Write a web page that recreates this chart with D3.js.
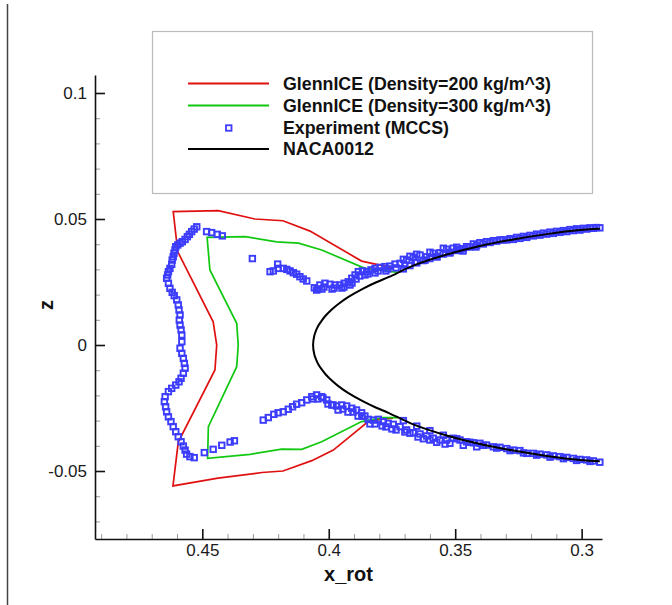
<!DOCTYPE html>
<html>
<head>
<meta charset="utf-8">
<script src="https://cdn.jsdelivr.net/npm/d3@7"></script>
<style>
  body { margin: 0; background: #fff; }
  svg { display: block; font-family: "Liberation Sans", Arial, sans-serif; }
</style>
</head>
<body>
<script>
// chart values
var xMajor = [0.45, 0.4, 0.35, 0.3]
var xMinor = [0.49, 0.48, 0.47, 0.46, 0.44, 0.43, 0.42, 0.41, 0.39, 0.38, 0.37, 0.36, 0.34, 0.33, 0.32, 0.31]
var xLabels = ["0.45", "0.4", "0.35", "0.3"]
var zMajor = [-0.05, 0, 0.05, 0.1]
var zMinor = [-0.07, -0.06, -0.04, -0.03, -0.02, -0.01, 0.01, 0.02, 0.03, 0.04, 0.06, 0.07, 0.08, 0.09]
var zLabels = ["-0.05", "0", "0.05", "0.1"]

var seriesNames = ["GlennICE (Density=200 kg/m^3)", "GlennICE (Density=300 kg/m^3)", "Experiment (MCCS)", "NACA0012"]

// ice shape, density 200
var glenn200 = [
    [0.3746, 0.0306], [0.3797, 0.0317], [0.3870, 0.0333], [0.4074, 0.0452], [0.4181, 0.0493],
    [0.4292, 0.0500], [0.4437, 0.0533], [0.4615, 0.0529], [0.4597, 0.0370], [0.4457, 0.0092],
    [0.4443, 0.0000], [0.4450, -0.0099], [0.4595, -0.0385], [0.4616, -0.0559], [0.4438, -0.0528],
    [0.4264, -0.0506], [0.4181, -0.0500], [0.4067, -0.0459], [0.3982, -0.0417], [0.3844, -0.0304],
    [0.3797, -0.0295], [0.3746, -0.0290]
]

// ice shape, density 300
var glenn300 = [
    [0.3726, 0.0288], [0.3857, 0.0304], [0.4028, 0.0377], [0.4120, 0.0404], [0.4206, 0.0409],
    [0.4331, 0.0430], [0.4481, 0.0427], [0.4470, 0.0298], [0.4364, 0.0086], [0.4358, 0.0000],
    [0.4364, -0.0086], [0.4476, -0.0324], [0.4479, -0.0450], [0.4311, -0.0434], [0.4186, -0.0413],
    [0.4107, -0.0414], [0.4028, -0.0384], [0.3870, -0.0304], [0.3786, -0.0288], [0.3726, -0.0288]
]

// measured ice (MCCS)
var experiment = [
    // outer horn, top to bottom
    [0.4522, 0.0469], [0.4532, 0.0460], [0.4542, 0.0450], [0.4551, 0.0439], [0.4559, 0.0430],
    [0.4568, 0.0419], [0.4579, 0.0410], [0.4588, 0.0404], [0.4597, 0.0397], [0.4605, 0.0390],
    [0.4608, 0.0377], [0.4612, 0.0364], [0.4615, 0.0350], [0.4619, 0.0337], [0.4621, 0.0320],
    [0.4628, 0.0304], [0.4634, 0.0291], [0.4637, 0.0278], [0.4641, 0.0265], [0.4634, 0.0245],
    [0.4628, 0.0225], [0.4619, 0.0209], [0.4611, 0.0196], [0.4601, 0.0179], [0.4595, 0.0159],
    [0.4592, 0.0139], [0.4588, 0.0119], [0.4591, 0.0099], [0.4588, 0.0079], [0.4584, 0.0060],
    [0.4581, 0.0040], [0.4581, 0.0013], [0.4588, -0.0013], [0.4581, -0.0033], [0.4575, -0.0053],
    [0.4571, -0.0073], [0.4568, -0.0092], [0.4575, -0.0112], [0.4584, -0.0132], [0.4592, -0.0146],
    [0.4605, -0.0159], [0.4621, -0.0172], [0.4634, -0.0185], [0.4647, -0.0205], [0.4650, -0.0225],
    [0.4645, -0.0245], [0.4641, -0.0265], [0.4634, -0.0285], [0.4624, -0.0304], [0.4615, -0.0324],
    [0.4605, -0.0344], [0.4595, -0.0364], [0.4584, -0.0384], [0.4575, -0.0401], [0.4568, -0.0417],
    [0.4562, -0.0433], [0.4549, -0.0443], [0.4532, -0.0447],
    // short strands near the horns
    [0.4483, 0.0450], [0.4463, 0.0446], [0.4441, 0.0439], [0.4421, 0.0433], [0.4302, 0.0343],
    [0.4492, -0.0427], [0.4457, -0.0414], [0.4423, -0.0398], [0.4390, -0.0385], [0.4373, -0.0380],
    // upper inner strand
    [0.4232, 0.0291], [0.4219, 0.0294], [0.4202, 0.0321], [0.4200, 0.0304], [0.4180, 0.0304],
    [0.4166, 0.0300], [0.4153, 0.0294], [0.4140, 0.0287], [0.4127, 0.0281], [0.4114, 0.0271],
    [0.4101, 0.0262], [0.4087, 0.0254], [0.4057, 0.0227], [0.4048, 0.0218], [0.4035, 0.0238],
    [0.4015, 0.0245], [0.3995, 0.0241], [0.3975, 0.0238], [0.3956, 0.0238], [0.3939, 0.0245],
    [0.3923, 0.0251], [0.3909, 0.0265], [0.3896, 0.0278], [0.3883, 0.0291], [0.3867, 0.0294],
    [0.3850, 0.0291], [0.3833, 0.0298], [0.3817, 0.0304], [0.3797, 0.0308], [0.3778, 0.0311],
    [0.3758, 0.0313], [0.3738, 0.0321], [0.3718, 0.0324],
    [0.4027, 0.0222], [0.3987, 0.0222], [0.3948, 0.0226], [0.3916, 0.0238], [0.3892, 0.0262],
    [0.3857, 0.0278], [0.3817, 0.0286], [0.3774, 0.0294],
    [0.4043, 0.0222], [0.4019, 0.0230], [0.3979, 0.0226], [0.3940, 0.0230], [0.3908, 0.0246],
    [0.3877, 0.0274], [0.3845, 0.0282], [0.3805, 0.0294], [0.3766, 0.0302], [0.3734, 0.0306],
    // upper surface, outer row
    [0.3692, 0.0337], [0.3666, 0.0348], [0.3639, 0.0357], [0.3613, 0.0350], [0.3587, 0.0364],
    [0.3560, 0.0366], [0.3534, 0.0380], [0.3508, 0.0384], [0.3481, 0.0380], [0.3455, 0.0390],
    [0.3428, 0.0401], [0.3402, 0.0406], [0.3376, 0.0410], [0.3349, 0.0414], [0.3323, 0.0417],
    [0.3296, 0.0417], [0.3270, 0.0419], [0.3244, 0.0423], [0.3217, 0.0427], [0.3191, 0.0433],
    [0.3165, 0.0436], [0.3138, 0.0440], [0.3112, 0.0443], [0.3086, 0.0447], [0.3059, 0.0450],
    [0.3033, 0.0454], [0.3007, 0.0456], [0.2980, 0.0460], [0.2954, 0.0463], [0.2928, 0.0465],
    [0.3699, 0.0317], [0.3659, 0.0329], [0.3619, 0.0337], [0.3572, 0.0349], [0.3521, 0.0365],
    [0.3469, 0.0373], [0.3418, 0.0389],
    [0.3705, 0.0340], [0.3679, 0.0352], [0.3652, 0.0360], [0.3600, 0.0368], [0.3547, 0.0384],
    [0.3494, 0.0388],
    // upper surface, inner row
    [0.3705, 0.0302], [0.3679, 0.0315], [0.3652, 0.0326], [0.3626, 0.0335], [0.3600, 0.0343],
    [0.3573, 0.0352], [0.3547, 0.0361], [0.3521, 0.0368], [0.3494, 0.0375], [0.3468, 0.0382],
    [0.3441, 0.0389], [0.3415, 0.0396], [0.3389, 0.0401], [0.3362, 0.0407], [0.3336, 0.0412],
    [0.3310, 0.0417], [0.3283, 0.0422], [0.3257, 0.0427], [0.3230, 0.0431], [0.3204, 0.0435],
    [0.3178, 0.0440], [0.3151, 0.0444], [0.3125, 0.0448], [0.3099, 0.0451], [0.3072, 0.0454],
    [0.3046, 0.0458], [0.3020, 0.0461], [0.2993, 0.0463], [0.2967, 0.0465], [0.2941, 0.0466],
    // lower inner strand
    [0.4259, -0.0298], [0.4239, -0.0288], [0.4217, -0.0275], [0.4200, -0.0269], [0.4180, -0.0265],
    [0.4160, -0.0255], [0.4143, -0.0245], [0.4127, -0.0235], [0.4107, -0.0229], [0.4087, -0.0218],
    [0.4067, -0.0205], [0.4048, -0.0198], [0.4028, -0.0205], [0.4008, -0.0218], [0.3988, -0.0238],
    [0.3969, -0.0242], [0.3949, -0.0238], [0.3929, -0.0242], [0.3909, -0.0251], [0.3890, -0.0258],
    [0.3870, -0.0269], [0.3857, -0.0282], [0.3844, -0.0295], [0.3824, -0.0298], [0.3804, -0.0295],
    [0.3784, -0.0304], [0.3765, -0.0311], [0.3745, -0.0315],
    [0.4043, -0.0214], [0.4003, -0.0234], [0.3963, -0.0258], [0.3924, -0.0266], [0.3884, -0.0282],
    [0.3837, -0.0313], [0.3789, -0.0321], [0.3750, -0.0333],
    [0.4062, -0.0214], [0.4023, -0.0210], [0.3983, -0.0238], [0.3944, -0.0254], [0.3904, -0.0266],
    [0.3869, -0.0282], [0.3817, -0.0313], [0.3774, -0.0325], [0.3734, -0.0337],
    // lower surface
    [0.3718, -0.0324], [0.3692, -0.0337], [0.3666, -0.0348], [0.3639, -0.0353], [0.3613, -0.0361],
    [0.3587, -0.0370], [0.3560, -0.0377], [0.3534, -0.0377], [0.3508, -0.0370], [0.3481, -0.0377],
    [0.3455, -0.0384], [0.3428, -0.0388], [0.3402, -0.0390], [0.3376, -0.0397], [0.3349, -0.0404],
    [0.3323, -0.0406], [0.3296, -0.0411], [0.3270, -0.0417], [0.3244, -0.0419], [0.3217, -0.0430],
    [0.3191, -0.0430], [0.3165, -0.0433], [0.3138, -0.0436], [0.3112, -0.0440], [0.3086, -0.0443],
    [0.3059, -0.0446], [0.3033, -0.0450], [0.3007, -0.0454], [0.2980, -0.0456], [0.2954, -0.0460],
    [0.2928, -0.0465],
    [0.3699, -0.0345], [0.3647, -0.0365], [0.3600, -0.0377], [0.3540, -0.0393],
    [0.3679, -0.0350], [0.3626, -0.0372], [0.3573, -0.0386], [0.3521, -0.0390], [0.3468, -0.0398],
    [0.3415, -0.0404],
    [0.3705, -0.0300], [0.3652, -0.0322], [0.3600, -0.0340], [0.3547, -0.0358], [0.3494, -0.0372],
    [0.3441, -0.0386], [0.3389, -0.0398], [0.3336, -0.0409], [0.3283, -0.0419], [0.3230, -0.0428],
    [0.3178, -0.0437], [0.3125, -0.0445], [0.3072, -0.0451], [0.3020, -0.0458], [0.2967, -0.0462]
]

// clean airfoil, upper surface -> leading edge -> lower surface
var naca0012 = [
    [0.2928, 0.0461], [0.3007, 0.0456], [0.3138, 0.0440], [0.3270, 0.0419], [0.3402, 0.0393],
    [0.3534, 0.0359], [0.3666, 0.0315], [0.3762, 0.0270], [0.3812, 0.0249], [0.3862, 0.0225],
    [0.3922, 0.0191], [0.3962, 0.0163], [0.3987, 0.0142], [0.4012, 0.0117], [0.4027, 0.0098],
    [0.4042, 0.0075], [0.4052, 0.0053], [0.4057, 0.0038], [0.4062, 0.0000],
    [0.4057, -0.0038], [0.4052, -0.0053], [0.4042, -0.0075], [0.4027, -0.0098], [0.4012, -0.0117],
    [0.3987, -0.0142], [0.3962, -0.0163], [0.3922, -0.0191], [0.3862, -0.0225], [0.3812, -0.0249],
    [0.3762, -0.0270], [0.3666, -0.0315], [0.3534, -0.0359], [0.3402, -0.0393], [0.3270, -0.0419],
    [0.3138, -0.0440], [0.3007, -0.0456], [0.2928, -0.0461]
]

var colors = ["#e01010", "#10c810", "#3c3cfc", "#000000"]

var width = 672
var height = 605
var plot = { left: 95, right: 602, top: 75, bottom: 539 }

var svg = d3.select("body").append("svg")
    .attr("width", width)
    .attr("height", height)

var xScale = d3.scaleLinear()
    .domain([0.49243, 0.29195])
    .range([plot.left, plot.right])

var yScale = d3.scaleLinear()
    .domain([-0.07698, 0.10714])
    .range([plot.bottom, plot.top])

// frame line at the far left of the page
svg.append("line")
    .attr("x1", 7.5).attr("x2", 7.5)
    .attr("y1", 4).attr("y2", height)
    .style("stroke", "#444")
    .style("stroke-width", 1.5)

function renderAxes() {
    var xMinorAxis = d3.axisBottom(xScale).tickValues(xMinor).tickSize(-5).tickFormat("")
    var yMinorAxis = d3.axisLeft(yScale).tickValues(zMinor).tickSize(-5).tickFormat("")

    svg.append("g")
        .attr("class", "x-minor")
        .attr("transform", "translate(0," + plot.bottom + ")")
        .call(xMinorAxis)
        .call(function (g) { g.select(".domain").remove() })
        .selectAll("line").style("stroke", "#999").style("stroke-width", 1)

    svg.append("g")
        .attr("class", "y-minor")
        .attr("transform", "translate(" + plot.left + ",0)")
        .call(yMinorAxis)
        .call(function (g) { g.select(".domain").remove() })
        .selectAll("line").style("stroke", "#999").style("stroke-width", 1)

    var xAxis = d3.axisBottom(xScale)
        .tickValues(xMajor)
        .tickFormat(function (d, i) { return xLabels[i] })
        .tickSize(-10)
        .tickSizeOuter(0)
        .tickPadding(5)

    var gx = svg.append("g")
        .attr("class", "x-axis")
        .attr("transform", "translate(0," + plot.bottom + ")")
        .call(xAxis)
    gx.select(".domain").style("stroke", "#111").style("stroke-width", 1.6)
    gx.selectAll(".tick line").style("stroke", "#111").style("stroke-width", 1.6)
    gx.selectAll(".tick text").style("font-size", "17px").style("fill", "#1a1a1a")

    var yAxis = d3.axisLeft(yScale)
        .tickValues(zMajor)
        .tickFormat(function (d, i) { return zLabels[i] })
        .tickSize(-10)
        .tickSizeOuter(0)
        .tickPadding(8)

    var gy = svg.append("g")
        .attr("class", "y-axis")
        .attr("transform", "translate(" + plot.left + ",0)")
        .call(yAxis)
    gy.select(".domain").style("stroke", "#111").style("stroke-width", 1.6)
    gy.selectAll(".tick line").style("stroke", "#111").style("stroke-width", 1.6)
    gy.selectAll(".tick text").style("font-size", "17px").style("fill", "#1a1a1a")

    svg.append("text")
        .attr("x", (plot.left + plot.right) / 2)
        .attr("y", 581)
        .attr("text-anchor", "middle")
        .style("font-size", "20px")
        .style("font-weight", "bold")
        .style("fill", "#111")
        .text("x_rot")

    svg.append("text")
        .attr("transform", "translate(53," + 305 + ") rotate(-90)")
        .attr("text-anchor", "middle")
        .style("font-size", "20px")
        .style("font-weight", "bold")
        .style("fill", "#111")
        .text("z")
}

function renderLegend() {
    var lg = svg.append("g").attr("class", "legend")
    lg.append("rect")
        .attr("x", 152.5).attr("y", 31.5)
        .attr("width", 440).attr("height", 162)
        .style("fill", "#fff")
        .style("stroke", "#bbb")
        .style("stroke-width", 1.2)

    var rows = [83.5, 105.5, 128, 149]
    seriesNames.forEach(function (name, i) {
        if (i === 2) {
            lg.append("rect")
                .attr("x", 226).attr("y", rows[i] - 2.75)
                .attr("width", 5.5).attr("height", 5.5)
                .style("fill", "none")
                .style("stroke", colors[i])
                .style("stroke-width", 1.8)
        } else {
            lg.append("line")
                .attr("x1", 188).attr("x2", 269)
                .attr("y1", rows[i]).attr("y2", rows[i])
                .style("stroke", colors[i])
                .style("stroke-width", 1.8)
        }
        lg.append("text")
            .attr("x", 283)
            .attr("y", rows[i])
            .attr("dy", "0.36em")
            .style("font-size", "17.8px")
            .style("font-weight", "bold")
            .style("fill", "#111")
            .text(name)
    })
}

function renderSeries() {
    var line = d3.line()
        .x(function (d) { return xScale(d[0]) })
        .y(function (d) { return yScale(d[1]) })

    svg.append("path")
        .datum(glenn200)
        .attr("d", line)
        .style("fill", "none")
        .style("stroke", colors[0])
        .style("stroke-width", 1.7)

    svg.append("path")
        .datum(glenn300)
        .attr("d", line)
        .style("fill", "none")
        .style("stroke", colors[1])
        .style("stroke-width", 1.7)

    svg.selectAll("rect.exp")
        .data(experiment)
        .enter()
        .append("rect")
        .attr("class", "exp")
        .attr("x", function (d) { return xScale(d[0]) - 2.75 })
        .attr("y", function (d) { return yScale(d[1]) - 2.75 })
        .attr("width", 5.5)
        .attr("height", 5.5)
        .style("fill", "none")
        .style("stroke", colors[2])
        .style("stroke-width", 1.9)

    var curve = d3.line()
        .x(function (d) { return xScale(d[0]) })
        .y(function (d) { return yScale(d[1]) })
        .curve(d3.curveCatmullRom.alpha(0.5))

    svg.append("path")
        .datum(naca0012)
        .attr("d", curve)
        .style("fill", "none")
        .style("stroke", colors[3])
        .style("stroke-width", 2)
}

renderLegend()
renderSeries()
renderAxes()
</script>
</body>
</html>
